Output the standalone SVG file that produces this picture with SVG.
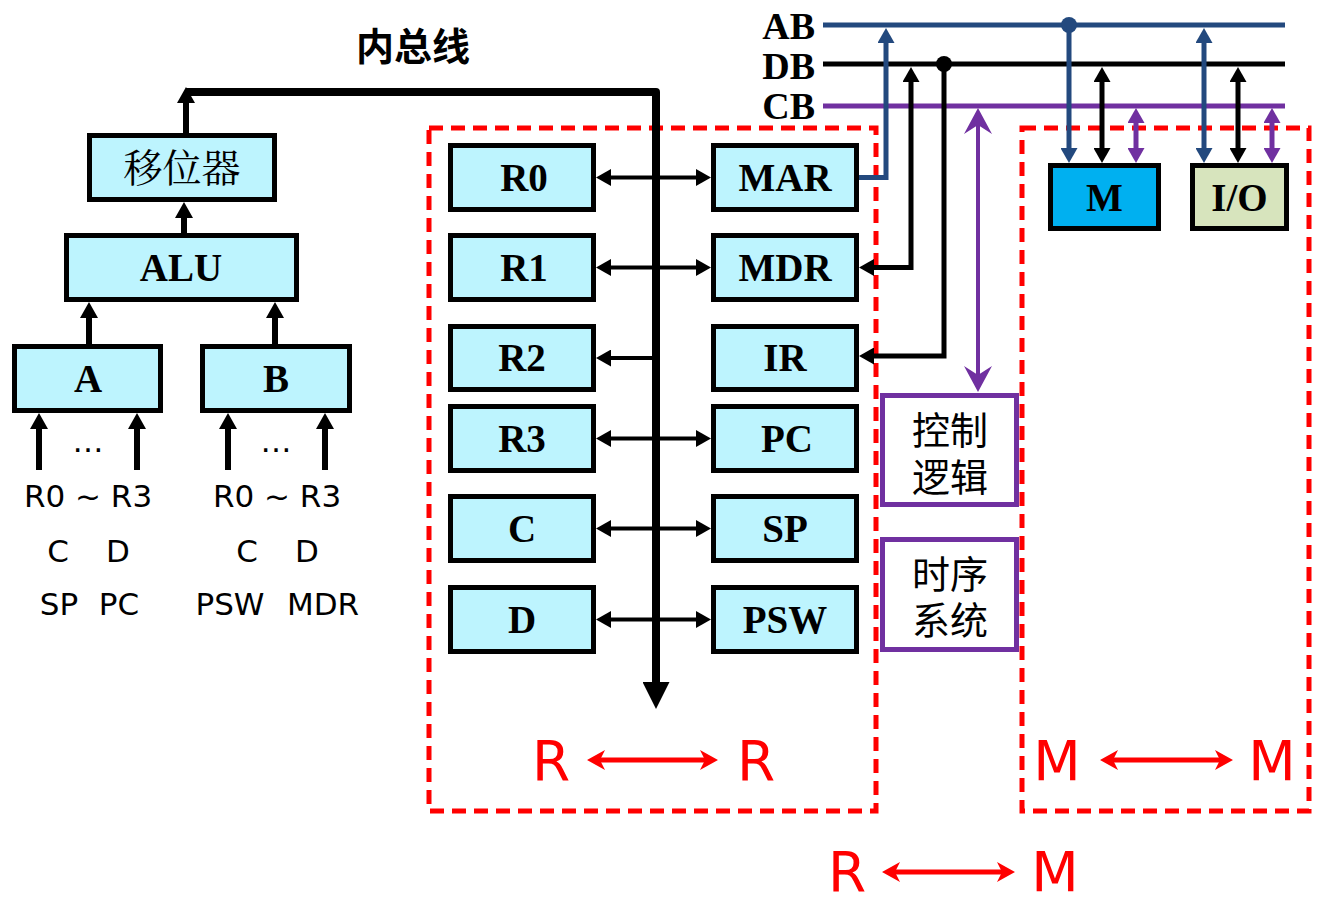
<svg xmlns="http://www.w3.org/2000/svg" width="1325" height="898" viewBox="0 0 1325 898">
<defs>
<style>
.box{fill:#BDF4FE;stroke:#000;stroke-width:5}
.lbl{font-family:"Liberation Serif","Times New Roman",serif;font-weight:bold;font-size:39px;fill:#000;text-anchor:middle}
.bus{font-family:"Liberation Serif","Times New Roman",serif;font-weight:bold;font-size:38px;fill:#000;text-anchor:end}
.cjk{font-family:"Noto Sans CJK SC",sans-serif;font-size:38px;fill:#000;text-anchor:middle}
.cjks{font-family:"Liberation Serif","Noto Serif CJK SC","Noto Sans CJK SC",serif;font-size:39px;fill:#000;text-anchor:middle}
.src{font-family:"DejaVu Sans",sans-serif;font-size:31px;fill:#000;text-anchor:middle}
.red{font-family:"DejaVu Sans",sans-serif;font-size:55px;fill:#FF0000;text-anchor:middle}
.ctl{fill:#fff;stroke:#7030A0;stroke-width:5}
.dash{fill:none;stroke:#FF0000;stroke-width:5;stroke-dasharray:14 8}
.k4{stroke:#000;stroke-width:4;fill:none}
.k5{stroke:#000;stroke-width:5;fill:none}
.k6{stroke:#000;stroke-width:6;fill:none}
.b5{stroke:#23497E;stroke-width:5;fill:none}
.p5{stroke:#7030A0;stroke-width:5;fill:none}
.p4{stroke:#7030A0;stroke-width:4;fill:none}
.r5{stroke:#FF0000;stroke-width:5;fill:none}
</style>
<marker id="ak" markerUnits="userSpaceOnUse" markerWidth="15" markerHeight="17" refX="9" refY="8.5" orient="auto-start-reverse"><path d="M0,0 L15,8.5 L0,17 z" fill="#000"/></marker>
<marker id="ab" markerUnits="userSpaceOnUse" markerWidth="15" markerHeight="17" refX="9" refY="8.5" orient="auto-start-reverse"><path d="M0,0 L15,8.5 L0,17 z" fill="#23497E"/></marker>
<marker id="ap" markerUnits="userSpaceOnUse" markerWidth="15" markerHeight="17" refX="9" refY="8.5" orient="auto-start-reverse"><path d="M0,0 L15,8.5 L0,17 z" fill="#7030A0"/></marker>
<marker id="a2" markerUnits="userSpaceOnUse" markerWidth="16" markerHeight="18" refX="10" refY="9" orient="auto-start-reverse"><path d="M0,0 L16,9 L0,18 z" fill="#000"/></marker>
<marker id="big" markerUnits="userSpaceOnUse" markerWidth="27" markerHeight="27" refX="15" refY="13.5" orient="auto"><path d="M0,0 L27,13.5 L0,27 z" fill="#000"/></marker>
<marker id="st" markerUnits="userSpaceOnUse" markerWidth="26" markerHeight="28" refX="12" refY="14" orient="auto-start-reverse"><path d="M0,0 L26,14 L0,28 L9,14 z" fill="#7030A0"/></marker>
<marker id="ar" markerUnits="userSpaceOnUse" markerWidth="18" markerHeight="20" refX="12" refY="10" orient="auto-start-reverse"><path d="M0,0 L18,10 L0,20 L5,10 z" fill="#FF0000"/></marker>
</defs>
<rect width="1325" height="898" fill="#fff"/>

<g id="regions">
<rect class="dash" x="429" y="128" width="447" height="683"/>
<rect class="dash" x="1022" y="128" width="287" height="683"/>
</g>

<g id="connectors">
<!-- internal bus -->
<path d="M186,92 H656 V697" stroke="#000" stroke-width="8" fill="none" stroke-linejoin="round" marker-end="url(#big)"/>
<line class="k6" x1="186" y1="133" x2="186" y2="93" marker-end="url(#a2)"/>
<line class="k6" x1="184" y1="233" x2="184" y2="208" marker-end="url(#a2)"/>
<line class="k6" x1="89" y1="344" x2="89" y2="308" marker-end="url(#a2)"/>
<line class="k6" x1="275" y1="344" x2="275" y2="308" marker-end="url(#a2)"/>
<line class="k6" x1="39" y1="470" x2="39" y2="419" marker-end="url(#a2)"/>
<line class="k6" x1="137" y1="470" x2="137" y2="419" marker-end="url(#a2)"/>
<line class="k6" x1="228" y1="470" x2="228" y2="419" marker-end="url(#a2)"/>
<line class="k6" x1="325" y1="470" x2="325" y2="419" marker-end="url(#a2)"/>
<!-- register rows -->
<line class="k4" x1="602" y1="177.5" x2="705" y2="177.5" marker-start="url(#ak)" marker-end="url(#ak)"/>
<line class="k4" x1="602" y1="267.5" x2="705" y2="267.5" marker-start="url(#ak)" marker-end="url(#ak)"/>
<line class="k4" x1="656" y1="358" x2="602" y2="358" marker-end="url(#ak)"/>
<line class="k4" x1="602" y1="438.5" x2="705" y2="438.5" marker-start="url(#ak)" marker-end="url(#ak)"/>
<line class="k4" x1="602" y1="528.5" x2="705" y2="528.5" marker-start="url(#ak)" marker-end="url(#ak)"/>
<line class="k4" x1="602" y1="619.5" x2="705" y2="619.5" marker-start="url(#ak)" marker-end="url(#ak)"/>
<!-- system buses -->
<line class="b5" x1="823" y1="25" x2="1285" y2="25"/>
<line class="k5" x1="823" y1="64" x2="1285" y2="64"/>
<line class="p5" x1="823" y1="106" x2="1285" y2="106"/>
<path class="b5" d="M859,177.5 H886 V34" marker-end="url(#ab)"/>
<path class="k5" d="M911,73 V267.5 H865" marker-start="url(#ak)" marker-end="url(#ak)"/>
<path class="k5" d="M944,64 V356 H865" marker-end="url(#ak)"/>
<circle cx="944" cy="64" r="8" fill="#000"/>
<line class="p4" x1="978" y1="122" x2="978" y2="378" marker-start="url(#st)" marker-end="url(#st)"/>
<circle cx="1069" cy="25" r="8" fill="#23497E"/>
<line class="b5" x1="1069" y1="25" x2="1069" y2="157" marker-end="url(#ab)"/>
<line class="k5" x1="1102" y1="73" x2="1102" y2="157" marker-start="url(#ak)" marker-end="url(#ak)"/>
<line class="p5" x1="1136" y1="114" x2="1136" y2="157" marker-start="url(#ap)" marker-end="url(#ap)"/>
<line class="b5" x1="1204" y1="34" x2="1204" y2="157" marker-start="url(#ab)" marker-end="url(#ab)"/>
<line class="k5" x1="1238" y1="73" x2="1238" y2="157" marker-start="url(#ak)" marker-end="url(#ak)"/>
<line class="p5" x1="1272" y1="114" x2="1272" y2="157" marker-start="url(#ap)" marker-end="url(#ap)"/>
<!-- red transfer arrows -->
<line class="r5" x1="593" y1="760" x2="712" y2="760" marker-start="url(#ar)" marker-end="url(#ar)"/>
<line class="r5" x1="1106" y1="760" x2="1227" y2="760" marker-start="url(#ar)" marker-end="url(#ar)"/>
<line class="r5" x1="888" y1="872" x2="1009" y2="872" marker-start="url(#ar)" marker-end="url(#ar)"/>
</g>

<g id="labels">
<text class="cjk" x="413" y="60" font-weight="bold">内总线</text>
<text class="bus" x="815" y="39">AB</text>
<text class="bus" x="815" y="79">DB</text>
<text class="bus" x="815" y="119">CB</text>
<text class="src" x="88" y="452" font-size="22" font-family="Liberation Sans">…</text>
<text class="src" x="276" y="452" font-size="22" font-family="Liberation Sans">…</text>
<text class="src" x="88" y="507">R0 ~ R3</text>
<text class="src" x="58" y="562">C</text>
<text class="src" x="118" y="562">D</text>
<text class="src" x="59" y="615">SP</text>
<text class="src" x="119" y="615">PC</text>
<text class="src" x="277" y="507">R0 ~ R3</text>
<text class="src" x="247" y="562">C</text>
<text class="src" x="307" y="562">D</text>
<text class="src" x="230" y="615">PSW</text>
<text class="src" x="323" y="615">MDR</text>
<text class="red" x="551" y="780">R</text>
<text class="red" x="756" y="780">R</text>
<text class="red" x="1057" y="780">M</text>
<text class="red" x="1272" y="780">M</text>
<text class="red" x="847" y="891">R</text>
<text class="red" x="1055" y="891">M</text>
</g>

<g id="shifter"><rect class="box" x="89.5" y="135.5" width="185" height="64"/><text class="cjks" x="182" y="182">移位器</text></g>
<g id="alu"><rect class="box" x="66.5" y="235.5" width="230" height="64"/><text class="lbl" x="181" y="281">ALU</text></g>
<g id="regA"><rect class="box" x="14.5" y="346.5" width="146" height="64"/><text class="lbl" x="88" y="392">A</text></g>
<g id="regB"><rect class="box" x="202.5" y="346.5" width="147" height="64"/><text class="lbl" x="276" y="392">B</text></g>

<g id="R0"><rect class="box" x="450.5" y="145.5" width="143" height="64"/><text class="lbl" x="524" y="191">R0</text></g>
<g id="R1"><rect class="box" x="450.5" y="235.5" width="143" height="64"/><text class="lbl" x="524" y="281">R1</text></g>
<g id="R2"><rect class="box" x="450.5" y="326.5" width="143" height="63"/><text class="lbl" x="522" y="371">R2</text></g>
<g id="R3"><rect class="box" x="450.5" y="406.5" width="143" height="64"/><text class="lbl" x="522" y="452">R3</text></g>
<g id="C"><rect class="box" x="450.5" y="496.5" width="143" height="64"/><text class="lbl" x="522" y="542">C</text></g>
<g id="D"><rect class="box" x="450.5" y="587.5" width="143" height="64"/><text class="lbl" x="522" y="633">D</text></g>

<g id="MAR"><rect class="box" x="713.5" y="145.5" width="143" height="64"/><text class="lbl" x="785" y="191">MAR</text></g>
<g id="MDR"><rect class="box" x="713.5" y="235.5" width="143" height="64"/><text class="lbl" x="785" y="281">MDR</text></g>
<g id="IR"><rect class="box" x="713.5" y="326.5" width="143" height="63"/><text class="lbl" x="785" y="371">IR</text></g>
<g id="PC"><rect class="box" x="713.5" y="406.5" width="143" height="64"/><text class="lbl" x="787" y="452">PC</text></g>
<g id="SP"><rect class="box" x="713.5" y="496.5" width="143" height="64"/><text class="lbl" x="785" y="542">SP</text></g>
<g id="PSW"><rect class="box" x="713.5" y="587.5" width="143" height="64"/><text class="lbl" x="785" y="633">PSW</text></g>

<g id="control"><rect class="ctl" x="882.5" y="395.5" width="134" height="109"/><text class="cjk" x="950" y="444">控制</text><text class="cjk" x="950" y="491">逻辑</text></g>
<g id="timing"><rect class="ctl" x="882.5" y="539.5" width="134" height="110"/><text class="cjk" x="950" y="588">时序</text><text class="cjk" x="950" y="634">系统</text></g>

<g id="M"><rect x="1050.5" y="165.5" width="108" height="63" fill="#00B0F0" stroke="#000" stroke-width="5"/><text class="lbl" x="1104.5" y="211">M</text></g>
<g id="IO"><rect x="1192.5" y="165.5" width="94" height="63" fill="#D7E4BD" stroke="#000" stroke-width="5"/><text class="lbl" x="1239.5" y="211">I/O</text></g>
</svg>
